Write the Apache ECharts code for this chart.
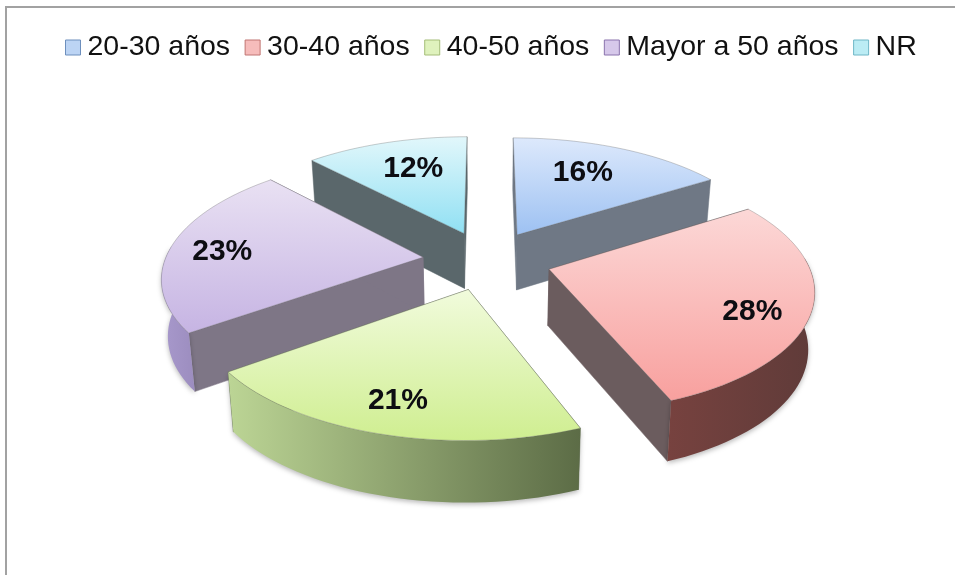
<!DOCTYPE html>
<html>
<head>
<meta charset="utf-8">
<title>Edades</title>
<script src="https://cdn.jsdelivr.net/npm/echarts@6/dist/echarts.min.js"></script>
<style>
  html, body { margin: 0; padding: 0; background: #fff; }
  #chart { width: 955px; height: 575px; }
</style>
</head>
<body>
<div id="chart"></div>
<script>
// chart data
const categories = ["20-30 años", "30-40 años", "40-50 años", "Mayor a 50 años", "NR"];
const percents = [16, 28, 21, 23, 12];

// colours per slice: top face from/to, radial face, outer wall from/to
const topFrom = ["#dde9fc", "#fcd8d7", "#f1fbdc", "#e9e1f3", "#e2f7fb"];
const topTo = ["#9dc1f2", "#f8a09e", "#cfee90", "#c6b4e3", "#90e0f3"];
const cutColor = ["#6f7885", "#6b5c5e", "#6b7a58", "#7e7686", "#5a676b"];
const wallFrom = ["#7f93b5", "#77423f", "#bcd595", "#a899cc", "#5fa0ad"];
const wallTo = ["#6d7f9c", "#5f3b39", "#5c6c46", "#9c8dbf", "#567f8a"];
const legendColor = ["#bcd4f4", "#f6bcbb", "#dff2bd", "#d6c8ea", "#bbecf4"];
const legendBorder = ["#6d8fbd", "#c07472", "#a5bd78", "#8a73ad", "#6fb6c6"];

// projection of the exploded pie
const cx = 487;
const cy = 260;
const rx = 258;
const ry = 118.5;
const persp = 0.15;
const explode = 0.25;
const depth = 56;
const shrink = 0.98;
// where each label sits: radius, and fraction of the slice's sweep
const labelR = [0.68, 0.8, 0.8, 0.79, 0.68];
const labelAt = [0.45, 0.566, 0.5, 0.478, 0.54];

const total = percents.reduce((a, b) => a + b, 0);
const turn = Math.PI * 2;

function angleAt(i) {
  let sum = 0;
  for (let j = 0; j < i; j++) sum += percents[j];
  return (sum / total) * turn;
}

function project(mid, theta, r) {
  const px = explode * Math.sin(mid) + r * Math.sin(theta);
  const py = explode * Math.cos(mid) + r * Math.cos(theta);
  const s = 1 / (1 + persp * py);
  return { x: cx + rx * px * s, y: cy - ry * py * s, s: s };
}

function upper(p) {
  return [p.x, p.y];
}

function lower(p) {
  return [cx + (p.x - cx) * shrink, p.y + depth * Math.sqrt(p.s)];
}

function arcPoints(mid, from, to) {
  const pts = [];
  const steps = Math.max(2, Math.ceil(((to - from) / turn) * 180));
  for (let k = 0; k <= steps; k++) {
    pts.push(project(mid, from + ((to - from) * k) / steps, 1));
  }
  return pts;
}

function poly(points, fill, extra) {
  return {
    type: "polygon",
    shape: { points: points },
    style: Object.assign({ fill: fill }, extra || {}),
  };
}

function vgrad(from, to) {
  return new echarts.graphic.LinearGradient(0, 0, 0, 1, [
    { offset: 0, color: from },
    { offset: 1, color: to },
  ]);
}

function hgrad(from, to) {
  return new echarts.graphic.LinearGradient(0, 0, 1, 0, [
    { offset: 0, color: from },
    { offset: 1, color: to },
  ]);
}

function renderSlice(i) {
  const start = angleAt(i);
  const end = angleAt(i + 1);
  const mid = (start + end) / 2;
  const apex = project(mid, 0, 0);
  const arc = arcPoints(mid, start, end);
  const children = [];

  // radial faces
  [arc[0], arc[arc.length - 1]].forEach((p) => {
    children.push(
      poly([upper(apex), upper(p), lower(p), lower(apex)], cutColor[i], {
        stroke: cutColor[i],
        lineWidth: 0.5,
      })
    );
  });

  // outer wall, only the part that faces the viewer
  const wallStart = Math.max(start, turn * 0.235);
  const wallEnd = Math.min(end, turn * 0.765);
  if (wallEnd > wallStart) {
    const wall = arcPoints(mid, wallStart, wallEnd);
    children.push(
      poly(
        wall.map(upper).concat(wall.slice().reverse().map(lower)),
        hgrad(wallFrom[i], wallTo[i]),
        { shadowBlur: 5, shadowColor: "rgba(0,0,0,0.28)", shadowOffsetY: 2 }
      )
    );
  }

  // top face
  children.push(
    poly([upper(apex)].concat(arc.map(upper)), vgrad(topFrom[i], topTo[i]), {
      stroke: "rgba(95,95,95,0.45)",
      lineWidth: 0.7,
    })
  );

  // percent label
  const lp = project(mid, start + (end - start) * labelAt[i], labelR[i]);
  children.push({
    type: "text",
    style: {
      text: percents[i] + "%",
      x: lp.x,
      y: lp.y,
      align: "center",
      verticalAlign: "middle",
      fill: "#0d0d12",
      font: 'bold 30px "Liberation Sans", Arial, sans-serif',
    },
  });
  return { type: "group", children: children };
}

// back slices get painted first
const depthOrder = percents
  .map((v, i) => i)
  .sort((a, b) => {
    const ma = (angleAt(a) + angleAt(a + 1)) / 2;
    const mb = (angleAt(b) + angleAt(b + 1)) / 2;
    return Math.cos(mb) - Math.cos(ma);
  });

const chart = echarts.init(document.getElementById("chart"));
chart.setOption({
  animation: false,
  backgroundColor: "#fff",
  graphic: [
    {
      type: "rect",
      shape: { x: 6, y: 7, width: 1000, height: 640 },
      style: { fill: "none", stroke: "#a2a2a2", lineWidth: 2 },
      silent: true,
    },
  ],
  legend: {
    left: 65,
    top: 33,
    padding: 0,
    itemWidth: 15,
    itemHeight: 15,
    itemGap: 14.5,
    selectedMode: false,
    textStyle: {
      color: "#111",
      fontFamily: '"Liberation Sans", Arial, sans-serif',
      fontSize: 28.5,
      padding: [0, 0, 0, 2],
    },
    data: categories.map((name, i) => ({
      name: name,
      icon: "rect",
      itemStyle: {
        color: legendColor[i],
        borderColor: legendBorder[i],
        borderWidth: 1,
      },
    })),
  },
  series: categories.map((name, i) => ({
    name: name,
    type: "custom",
    coordinateSystem: "none",
    silent: true,
    z: 2 + depthOrder.indexOf(i),
    itemStyle: { color: legendColor[i] },
    data: [percents[i]],
    renderItem: () => renderSlice(i),
  })),
});
</script>
</body>
</html>
